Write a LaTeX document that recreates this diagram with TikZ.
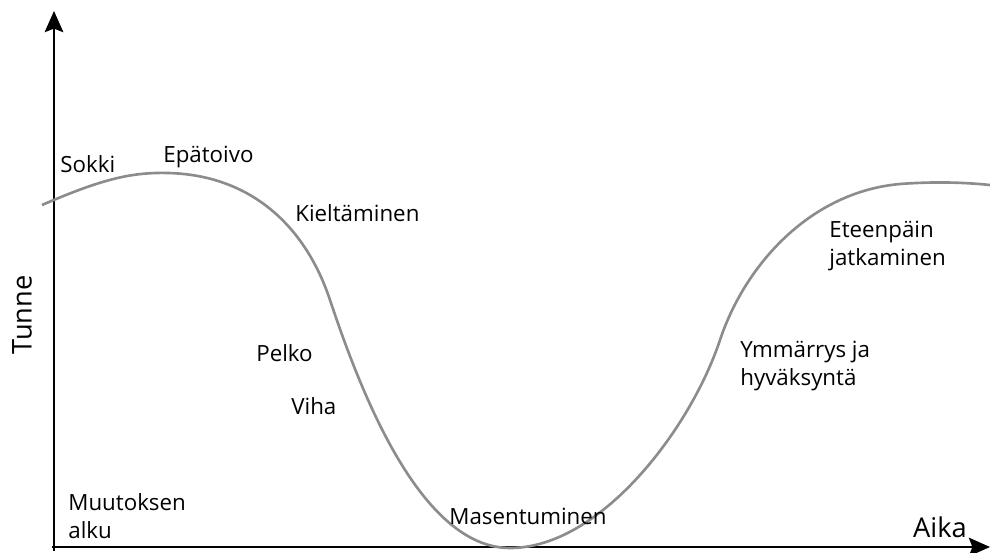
\documentclass[tikz,border=0pt]{standalone}
\usepackage{fontspec}
\setmainfont{Open Sans}
\usepackage{xcolor}
\usetikzlibrary{arrows.meta}

\definecolor{curvegray}{HTML}{8C8C8C}
\tikzset{
	phase/.style={font=\fontsize{12.7}{16}\selectfont, inner sep=0pt, align=left},
	axislabel/.style={font=\fontsize{15.5}{18}\selectfont, inner sep=0pt},
	axis/.style={line width=1.6pt, -{Stealth[length=12pt, width=10.5pt, inset=2pt]}}
}

\begin{document}
\begin{tikzpicture}[x=0.02cm, y=-0.02cm]
		\useasboundingbox (0,0) rectangle (990,553);
		% axes
		\coordinate (ybase) at (54,551);
		\coordinate (ytip) at (54,11);
		\coordinate (xbase) at (52,547);
		\coordinate (xtip) at (990,547);
		\draw [axis] (ybase) -- (ytip);
		\draw [axis] (xbase) -- (xtip);
		\node[axislabel, rotate=90] (tunne) at (22,315) {Tunne};
		\node[axislabel] (aika) at (940,527) {Aika};
		% change curve
		\draw [curvegray, line width=1.5pt]
			(42,205) .. controls (100,180) and (130,172) ..
			(168,173) .. controls (250,175) and (305,225) ..
			(330,300) .. controls (360,390) and (420,548) ..
			(510,548) .. controls (600,548) and (690,430) ..
			(720,340) .. controls (745,265) and (810,192) ..
			(900,184) .. controls (940,181) and (970,183) .. (990,185)
			;
		% phases
		\node[phase, anchor=west] (sokki) at (60,164) {Sokki};
		\node[phase, anchor=west] (epatoivo) at (163,157) {Epätoivo};
		\node[phase, anchor=west] (kieltaminen) at (295,213) {Kieltäminen};
		\node[phase, anchor=west] (pelko) at (256,353) {Pelko};
		\node[phase, anchor=west] (viha) at (291,406) {Viha};
		\node[phase, anchor=center] (masentuminen) at (528,516) {Masentuminen};
		\node[phase, anchor=west] (ymmarrys) at (740,366) {Ymmärrys ja\\hyväksyntä};
		\node[phase, anchor=west] (eteenpain) at (829,246) {Eteenpäin\\jatkaminen};
		\node[phase, anchor=west] (muutos) at (68,516) {Muutoksen\\alku};
	\end{tikzpicture}
\end{document}
